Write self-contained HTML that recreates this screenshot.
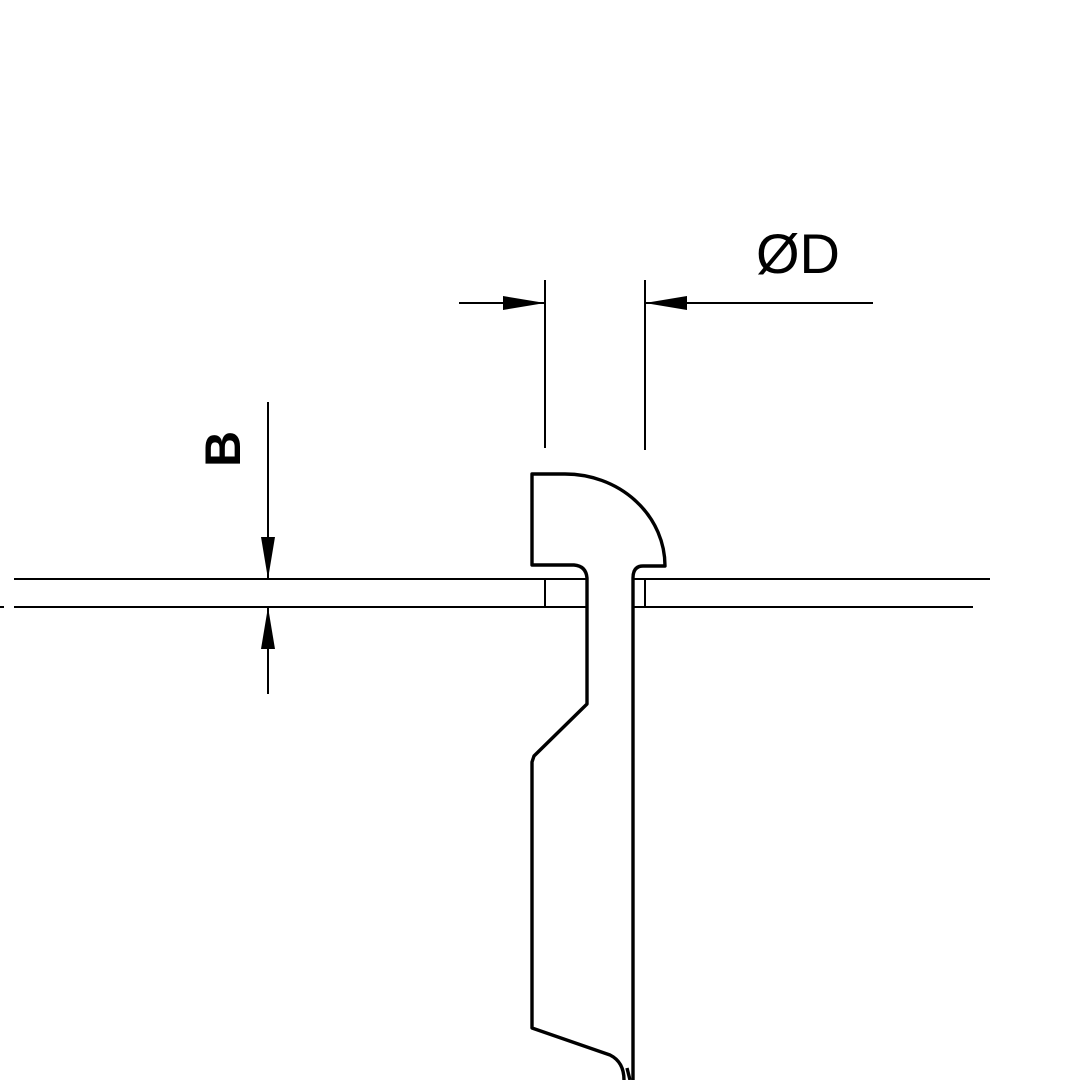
<!DOCTYPE html>
<html><head><style>html,body{margin:0;padding:0;background:#fff}svg{display:block}</style></head>
<body>
<svg width="1080" height="1080" viewBox="0 0 1080 1080" xmlns="http://www.w3.org/2000/svg">
<g stroke="#000" fill="none" stroke-width="2">
<line x1="14" y1="579" x2="586" y2="579"/>
<line x1="14" y1="607" x2="586" y2="607"/>
<line x1="633" y1="579" x2="990" y2="579"/>
<line x1="633" y1="607" x2="973" y2="607"/>
<line x1="0" y1="607" x2="4" y2="607"/>
<line x1="545" y1="579" x2="545" y2="607"/>
<line x1="645" y1="579" x2="645" y2="607"/>
<line x1="545" y1="280" x2="545" y2="448"/>
<line x1="645" y1="280" x2="645" y2="450"/>
<line x1="459" y1="303" x2="545" y2="303"/>
<line x1="645" y1="303" x2="873" y2="303"/>
<line x1="268" y1="402" x2="268" y2="579"/>
<line x1="268" y1="607" x2="268" y2="694"/>
</g>
<g fill="#000">
<polygon points="545,303 503,296 503,310"/>
<polygon points="645,303 687,296 687,310"/>
<polygon points="268,579 261,537 275,537"/>
<polygon points="268,607 261,649 275,649"/>
</g>
<g stroke="#000" fill="none" stroke-width="3.4" stroke-linejoin="round">
<path d="M633,1080 L633,578 Q633,566 643,566 L665,566 A100,92 0 0 0 565,474 L532,474 L532,565 L574,565 Q586,566 587,578 L587,704 L534,756 L532,762 L532,1028 L610,1055 Q624,1062 624,1080"/>
<path d="M627,1068 L630,1080"/>
</g>
<g font-family="Liberation Sans, sans-serif" fill="#000">
<text x="756" y="273" font-size="56">ØD</text>
<text transform="translate(240,449) rotate(-90)" font-size="50" font-weight="bold" text-anchor="middle">B</text>
</g>
</svg>
</body></html>
